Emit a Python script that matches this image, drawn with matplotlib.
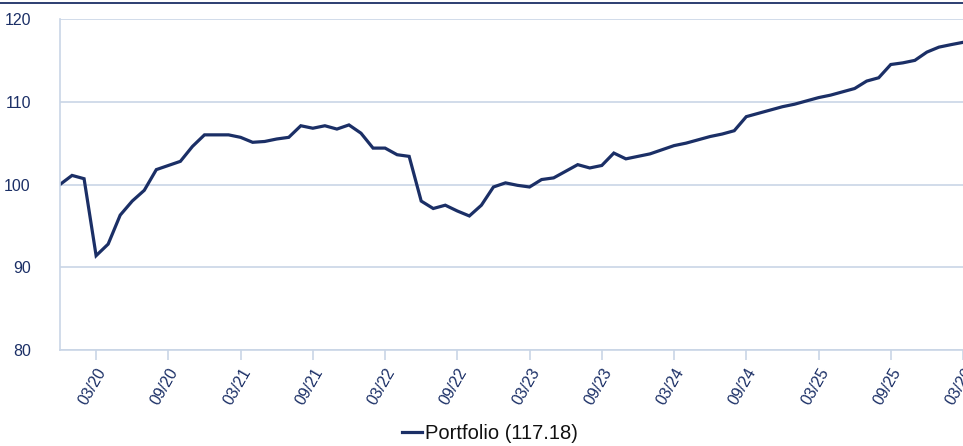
import numpy as np
import matplotlib.pyplot as plt
from matplotlib.lines import Line2D

plt.rcParams['font.family'] = ['Liberation Sans', 'DejaVu Sans']

# monthly values, 12/2019 .. 03/2026
portfolio = [100.0, 101.1, 100.7, 91.4, 92.8, 96.3, 98.0, 99.3, 101.8, 102.3,
             102.8, 104.6, 106.0, 106.0, 106.0, 105.7, 105.1, 105.2, 105.5, 105.7,
             107.1, 106.8, 107.1, 106.7, 107.2, 106.2, 104.4, 104.4, 103.6, 103.4,
             98.0, 97.1, 97.5, 96.8, 96.2, 97.5, 99.7, 100.2, 99.9, 99.7,
             100.6, 100.8, 101.6, 102.4, 102.0, 102.3, 103.8, 103.1, 103.4, 103.7,
             104.2, 104.7, 105.0, 105.4, 105.8, 106.1, 106.5, 108.2, 108.6, 109.0,
             109.4, 109.7, 110.1, 110.5, 110.8, 111.2, 111.6, 112.5, 112.9, 114.5,
             114.7, 115.0, 116.0, 116.6, 116.9, 117.18]
tick_labels = ['03/20', '09/20', '03/21', '09/21', '03/22', '09/22', '03/23',
               '09/23', '03/24', '09/24', '03/25', '09/25', '03/26']
legend_label = 'Portfolio (117.18)'

navy = '#1b2f66'
grid_col = '#c9d5e6'

fig = plt.figure(figsize=(9.63, 4.46), dpi=100, facecolor='white')
ax = fig.add_axes([0.0623, 0.2152, 0.9377, 0.7422])

x = np.arange(len(portfolio))
ax.plot(x, portfolio, color=navy, linewidth=2.3, solid_joinstyle='miter')

ax.set_xlim(0, len(portfolio) - 1)
ax.set_ylim(80, 120)
ax.set_yticks([80, 90, 100, 110, 120])
ax.set_xticks(np.arange(3, len(portfolio), 6))
ax.set_xticklabels(tick_labels, rotation=60, ha='right', rotation_mode='anchor')

ax.grid(axis='y', color=grid_col, linewidth=1.2)
ax.set_axisbelow(True)
for s in ['top', 'right']:
    ax.spines[s].set_visible(False)
for s in ['left', 'bottom']:
    ax.spines[s].set_color(grid_col)
    ax.spines[s].set_linewidth(1.2)

ax.tick_params(axis='y', length=0, pad=21, labelsize=11.5, labelcolor=navy)
ax.tick_params(axis='x', length=7, width=1.2, color=grid_col, pad=4,
               labelsize=11.5, labelcolor=navy)

handle = Line2D([], [], color=navy, linewidth=2.3)
fig.legend([handle], [legend_label], loc='lower center', bbox_to_anchor=(0.509, -0.035),
           frameon=False, fontsize=14.5, labelcolor='#111111',
           handlelength=1.0, handletextpad=0.15)

# title rule at the top edge
fig.add_artist(Line2D([0, 1], [0.993, 0.993], color=navy, linewidth=1.3,
                      transform=fig.transFigure))

fig.savefig('out.png', dpi=100)
